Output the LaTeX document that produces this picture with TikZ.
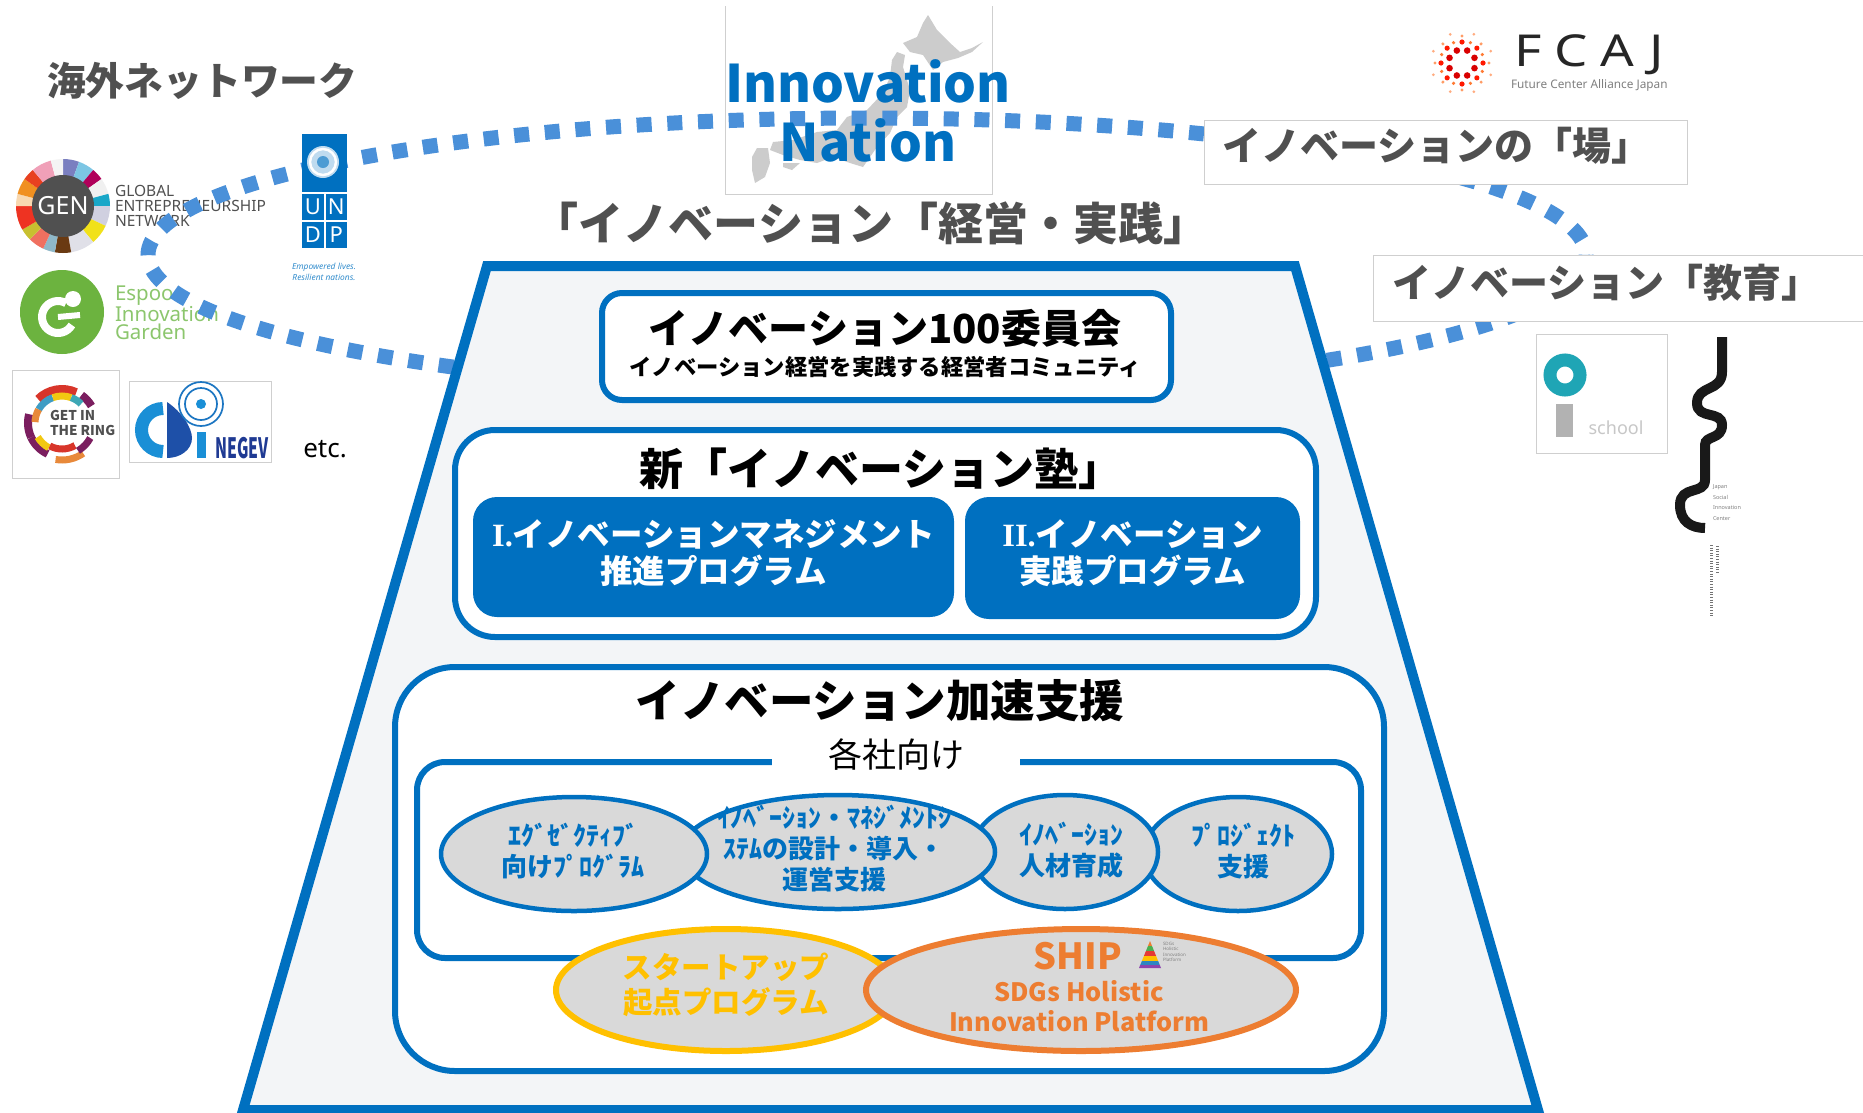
\documentclass[tikz,border=0pt]{standalone}
\usepackage{fontspec}
\usepackage{graphicx}
\setmainfont{Noto Sans CJK JP}
\newfontfamily\latinfont{Noto Sans}
\newfontfamily\seriflatin{Liberation Serif}
\usetikzlibrary{shapes.geometric,calc}
\newcommand{\fsz}[2]{\fontsize{#1}{#2}\selectfont}
\definecolor{mainblue}{HTML}{0070C0}
\definecolor{dashblue}{HTML}{4A90D9}
\definecolor{titlegray}{HTML}{505050}
\definecolor{ovalgray}{HTML}{D9D9D9}
\definecolor{mapgray}{HTML}{CCCCCC}
\definecolor{startupyellow}{HTML}{FFC000}
\definecolor{shiporange}{HTML}{ED7D31}
\definecolor{boxedge}{HTML}{CFCFCF}
\definecolor{espoogreen}{HTML}{6CB33F}
\definecolor{espoolight}{HTML}{8CC66D}
\definecolor{trapfill}{HTML}{F3F5F7}
\definecolor{ischoolteal}{HTML}{1FA5B5}
\definecolor{cdiblue}{HTML}{1A8FD6}
\definecolor{cdidark}{HTML}{1E50A8}
\definecolor{negevnavy}{HTML}{1F3A93}
\tikzset{
  txt/.style={inner sep=0pt,outer sep=0pt,align=center},
  graytitle/.style={txt,text=titlegray,font=\bfseries},
  panel/.style={draw=mainblue,line width=6pt,fill=white},
  bluebtn/.style={fill=mainblue,rounded corners=24pt,inner sep=0pt},
  btntext/.style={txt,text=white,font=\bfseries\fsz{32.5}{37}},
  blueoval/.style={ellipse,draw=mainblue,line width=4.5pt,fill=ovalgray,inner sep=0pt,minimum height=114pt},
  ovaltext/.style={txt,text=mainblue,font=\bfseries\fsz{26}{31}},
  labelbox/.style={draw=boxedge,line width=0.8pt,fill=white},
  logobox/.style={draw=boxedge,line width=0.8pt,fill=white},
}
\begin{document}
\begin{tikzpicture}[x=1pt,y=-1pt]
\clip (0,0) rectangle (1863,1112);
\fill[white] (0,0) rectangle (1863,1112);

% ---- map of Japan behind the headline
\draw[boxedge,line width=0.8pt,fill=white] (725,6) -- (725,194) -- (992,194) -- (992,6);
\fill[mapgray] (928,15) -- (937,30) -- (950,43) -- (960,52) -- (972,48) -- (983,42) -- (972,52) -- (958,58) -- (943,62) -- (933,70) -- (923,55) -- (910,52) -- (903,43) -- (917,37) -- (923,23) -- cycle;
\fill[mapgray] (897,52) -- (905,55) -- (903,67) -- (910,90) -- (907,107) -- (897,117) -- (890,133) -- (877,147) -- (863,167) -- (850,163) -- (833,157) -- (817,163) -- (800,160) -- (783,155) -- (770,150) -- (773,142) -- (793,140) -- (817,132) -- (837,130) -- (847,117) -- (867,110) -- (883,93) -- (890,77) -- (892,60) -- cycle;
\fill[mapgray] (757,148) -- (768,148) -- (770,163) -- (765,177) -- (755,183) -- (752,170) -- (752,157) -- cycle;
\fill[mapgray] (783,163) -- (800,163) -- (792,170) -- (783,167) -- cycle;

% ---- overseas logos
\foreach \a/\b/\c in {90/70/7A7FC0,70/50/7CC6E4,50/35/B0005A,35/15/F0F0F0,15/0/19A7C8,0/-25/D0D0E0,-25/-50/F1E11A,-50/-80/E0E0E8,-80/-100/6A3A12,-100/-115/8FB8C8,-115/-135/F07060,-135/-150/C8C030,-150/-180/EE3322,180/165/F8D8B0,165/145/F09020,145/130/E84020,130/105/F0A0B8,105/90/F4F4F4}{
  \definecolor{segc}{HTML}{\c}
  \fill[segc] (63,206) -- +(\a:47pt) arc[start angle=\a,end angle=\b,radius=47pt] -- cycle;
}
\node[circle,fill=titlegray,minimum size=62pt,inner sep=0pt,text=white,font=\latinfont\fsz{25}{25}] (gen) at (63,206) {GEN};
\node[txt,anchor=west,align=left,text=titlegray,font=\latinfont\fsz{15.5}{15}] (gentext) at (115,206) {GLOBAL\\ENTREPRENEURSHIP\\NETWORK};

\node[circle,fill=espoogreen,minimum size=84pt,inner sep=0pt] (espoo) at (62,312) {};
\draw[white,line width=8pt] (58,317) ++(60:16pt) arc[start angle=60,end angle=330,radius=16pt];
\draw[white,line width=6pt] (58,317) -- (80,315);
\fill[white] (73,299) circle (8pt);
\node[txt,anchor=west,align=left,text=espoolight,font=\latinfont\fsz{20.5}{17.5}] (espootext) at (115,313) {Espoo\\Innovation\\Garden};

% ---- dotted ellipse
\draw[dashblue,line width=15pt,dash pattern=on 15pt off 15.72pt,dash phase=14.9pt] (867,255) ellipse [x radius=719pt,y radius=137pt];

% ---- UNDP logo (sits on the dotted ellipse)
\fill[mainblue] (302,134) rectangle (347,192);
\fill[mainblue!25!white] (323,162) circle (16pt);
\draw[white,line width=2.5pt] (323,162) circle (13pt);
\fill[mainblue!70!white] (323,162) circle (6pt);
\foreach \x/\y/\t/\n in {302/194/U/u,325.5/194/N/n,302/222/D/d,325.5/222/P/p}{
  \fill[mainblue] (\x,\y) rectangle ++(21.5,26);
  \node[txt,text=white,font=\latinfont\fsz{22}{22}] (undp\n) at ($(\x,\y)+(10.8,13)$) {\t};
}
\node[txt,text=mainblue!80!white,font=\latinfont\itshape\fsz{8.4}{11.5}] (undpline) at (324,272) {Empowered lives.\\Resilient nations.};

% ---- headline
\node[txt,text=mainblue,font=\bfseries\fsz{51.7}{59}] (nation) at (868,111) {Innovation\\Nation};
\node[graytitle,font=\bfseries\fsz{38.8}{46},anchor=west] (overseas) at (47,81) {海外ネットワーク};
\node[graytitle,font=\fsz{45}{50}\bfseries] (keiei) at (871,223) {「イノベーション「経営・実践」};

% ---- bottom left logos
\draw[logobox] (12,370) rectangle (119,478);
\foreach \r/\w/\a/\b/\c in {34/8/65/135/D8352A,34/8/30/55/7B1E5F,34/8/165/205/7B1E5F,34/8/205/245/7B1E5F,37/7/260/305/E8893A,27/7/110/150/3E9CC4,27/7/70/110/F2C811,27/7/45/70/3EA7B5,27/7/150/178/E8893A,28/7/210/242/F2C811,26/7/242/300/D8352A,32/7/300/332/7B1E5F}{
  \definecolor{segc}{HTML}{\c}
  \draw[segc,line width=\w pt] (62,423) +(\a:\r pt) arc[start angle=\a,end angle=\b,radius=\r pt];
}
\node[txt,anchor=west,align=left,text=titlegray,font=\bfseries\fsz{13.5}{14.5}] (ring) at (50,423) {GET IN\\THE RING};

\draw[logobox] (129,381) rectangle (271,462);
\draw[cdiblue,line width=13pt] (163,430) +(90:21.5pt) arc[start angle=90,end angle=270,radius=21.5pt];
\fill[cdidark] (167,402) .. controls (182,412) and (192,428) .. (192,438) .. controls (192,450) and (180,458) .. (167,458) -- cycle;
\draw[cdiblue!70!negevnavy,line width=1.7pt] (201,404) circle (22pt);
\draw[cdiblue!70!negevnavy,line width=1.7pt] (201,404) circle (16pt);
\fill[cdiblue] (201,404) circle (5pt);
\fill[cdiblue] (197,432) rectangle (206,458);
\node[txt,text=negevnavy,font=\bfseries\fsz{28}{28}] (negev) at (242,448) {\scalebox{0.56}[1]{NEGEV}};
\node[txt,font=\latinfont\fsz{26}{26}] (etc) at (325,449) {etc.};

% ---- FCAJ logo
\foreach \i in {0,45,...,315}{
  \fill[red!85!black] (1462,63) +(\i+22.5:13.5pt) circle (3.3pt);
  \fill[red!80!orange] (1462,63) +(\i:21pt) circle (2.6pt);
  \fill[orange!70!red!80!white] (1462,63) +(\i+22.5:22pt) circle (1.8pt);
  \fill[orange!70!red!60!white] (1462,63) +(\i:27pt) circle (1.7pt);
  \fill[orange!70!red!50!white] (1462,63) +(\i+22.5:31pt) circle (1.5pt);
}
\node[txt,text=black!85,font=\latinfont\fsz{44}{44},anchor=west] (fcaj) at (1514,55) {\scalebox{1.2}[1]{\addfontfeature{LetterSpace=24}FCAJ}};
\node[txt,text=gray,font=\latinfont\fsz{11.8}{12},anchor=west] (fcajsub) at (1511,85) {Future Center Alliance Japan};

% ---- label boxes cover the dotted ellipse
\draw[labelbox] (1204,120) rectangle (1687,184);
\node[graytitle,font=\bfseries\fsz{39}{44},anchor=west] (ba) at (1222,146) {イノベーションの「場」};
\draw[labelbox] (1373,255) rectangle (1880,321);
\node[graytitle,font=\bfseries\fsz{39}{44},anchor=west] (edu) at (1392,283) {イノベーション「教育」};

% ---- i.school logo
\draw[logobox] (1536,334) rectangle (1667,453);
\draw[ischoolteal,line width=13pt] (1565,375) circle (15pt);
\fill[black!30] (1556,404) rectangle (1573,437);
\node[txt,text=black!22,font=\latinfont\bfseries\fsz{18}{18}] (school) at (1616,428) {school};

% ---- Japan Social Innovation Center logo
\draw[black!90,line width=10pt] (1722,337) -- (1722,372) .. controls (1722,392) and (1697,385) .. (1697,403) .. controls (1697,420) and (1722,410) .. (1722,425) .. controls (1722,440) and (1705,435) .. (1705,445) -- (1705,480) .. controls (1705,495) and (1680,485) .. (1680,505) .. controls (1680,522) and (1692,528) .. (1705,528);
\node[txt,anchor=north west,align=left,text=gray,font=\latinfont\fsz{5.5}{10.5}] (jsic) at (1713,485) {Japan\\Social\\Innovation\\Center};
\draw[black!55,line width=3pt,dash pattern=on 1pt off 1.6pt] (1711,545) -- (1711,616);
\draw[black!55,line width=3pt,dash pattern=on 1pt off 1.6pt] (1717,546) -- (1717,573);

% ---- trapezoid
\draw[mainblue,line width=10pt,fill=trapfill,line join=miter] (487,266) -- (1295,266) -- (1538,1110) -- (243,1110) -- cycle;

% ---- committee panel
\draw[panel,rounded corners=20pt] (602,293) rectangle (1171,400);
\node[txt,font=\bfseries\fsz{40}{46}] (com) at (885,328) {イノベーション100委員会};
\node[txt,font=\bfseries\fsz{22.3}{26}] (comsub) at (885,367) {イノベーション経営を実践する経営者コミュニティ};

% ---- school panel
\draw[panel,rounded corners=40pt] (455,430) rectangle (1316,637);
\node[txt,font=\bfseries\fsz{44}{48}] (juku) at (881,469) {新「イノベーション塾」};
\node[bluebtn,minimum width=481pt,minimum height=120pt] (prog1) at (713.5,557) {};
\node[btntext] (prog1label) at (713.5,553) {{\seriflatin I.}イノベーションマネジメント\\推進プログラム};
\node[bluebtn,minimum width=335pt,minimum height=122pt] (prog2) at (1132.5,558) {};
\node[btntext] (prog2label) at (1132.5,553) {{\seriflatin II.}イノベーション\\実践プログラム};

% ---- acceleration panel
\draw[panel,rounded corners=60pt] (395,667) rectangle (1384,1071);
\node[txt,font=\bfseries\fsz{44.5}{50}] (accel) at (880,701) {イノベーション加速支援};
\draw[panel,rounded corners=28pt] (417,762) rectangle (1361,958);
\node[fill=white,inner sep=0pt,minimum width=248pt,minimum height=40pt,font=\fsz{34}{40}] (each) at (896,754) {各社向け};

% ---- ovals
\node[blueoval,minimum width=188pt] (o4) at (1238,854) {};
\node[ovaltext] (o4label) at (1243,851) {ﾌﾟﾛｼﾞｪｸﾄ\\支援};
\node[blueoval,minimum width=186pt] (o3) at (1065,852) {};
\node[ovaltext] (o3label) at (1071,850) {ｲﾉﾍﾞｰｼｮﾝ\\人材育成};
\node[blueoval,minimum width=314pt] (o2) at (838,852) {};
\node[ovaltext] (o2label) at (834,849) {ｲﾉﾍﾞｰｼｮﾝ・ﾏﾈｼﾞﾒﾝﾄｼ\\ｽﾃﾑの設計・導入・\\運営支援};
\node[blueoval,minimum width=266pt] (o1) at (574,854) {};
\node[ovaltext] (o1label) at (573,851) {ｴｸﾞｾﾞｸﾃｨﾌﾞ\\向けﾌﾟﾛｸﾞﾗﾑ};
\node[ellipse,draw=startupyellow,line width=6pt,fill=ovalgray,minimum width=340pt,minimum height=122pt,inner sep=0pt] (startup) at (726,990) {};
\node[txt,text=startupyellow,font=\bfseries\fsz{29.5}{35}] (startuplabel) at (726,985) {スタートアップ\\起点プログラム};
\node[ellipse,draw=shiporange,line width=6pt,fill=ovalgray,minimum width=430pt,minimum height=122pt,inner sep=0pt] (ship) at (1081,990) {};
\node[txt,text=shiporange,font=\bfseries\fsz{36}{36}] (shipname) at (1078,956) {SHIP};
\node[txt,text=shiporange,font=\bfseries\fsz{25.3}{30}] (shipsub) at (1079,1006) {SDGs Holistic\\Innovation Platform};
\begin{scope}
\clip (1150,941) -- (1161,968) -- (1139,968) -- cycle;
\foreach \y/\c in {941/ED7D31,946/4CAF50,951/E53935,956/FFC000,961/2E86C1,965/8E44AD}{
  \definecolor{segc}{HTML}{\c}
  \fill[segc] (1135,\y) rectangle ++(30,5);
}
\end{scope}
\node[txt,anchor=west,align=left,text=gray,font=\latinfont\fsz{4.5}{5.5}] (shipmini) at (1163,952) {SDGs\\Holistic\\Innovation\\Platform};
\end{tikzpicture}
\end{document}
